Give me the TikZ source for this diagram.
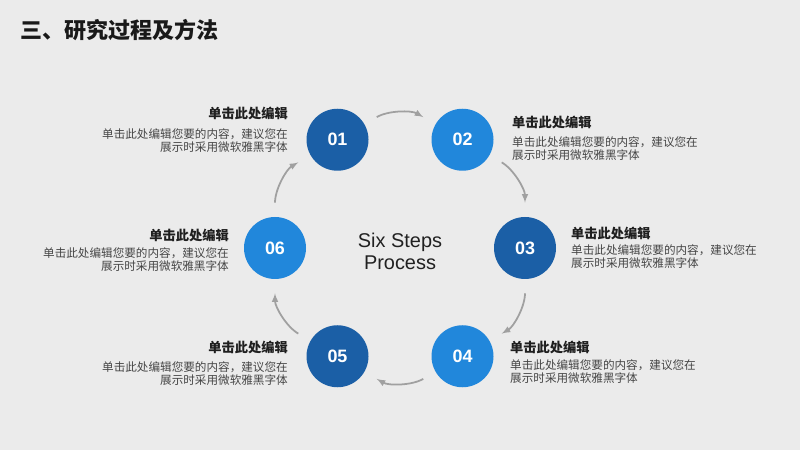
\documentclass[tikz,border=0pt]{standalone}
\usepackage{fontspec}
\setmainfont{Liberation Sans}
\newfontfamily\cjk{Noto Sans CJK SC}
\definecolor{bgcol}{HTML}{EBEBEB}
\definecolor{stepdark}{HTML}{1B5FA6}
\definecolor{steplight}{HTML}{2187DB}
\definecolor{arrowgray}{HTML}{A0A0A0}
\definecolor{bodygray}{HTML}{454545}
\tikzset{
  stepball/.style={circle,minimum size=1.86cm,inner sep=0pt,text=white,
    font=\fontsize{15.3pt}{16pt}\selectfont\bfseries},
  steptitle/.style={inner sep=0pt,text=black!88,font=\cjk\fontsize{11.3pt}{13pt}\selectfont\bfseries},
  stepbody/.style={inner sep=0pt,text=bodygray,font=\cjk\fontsize{9.9pt}{11.05pt}\selectfont},
  flow/.style={->,draw=arrowgray,line width=1.5pt,shorten <=12pt,shorten >=12pt}
}
\begin{document}
\begin{tikzpicture}[x=0.03cm,y=0.03cm,>=latex]
    \fill[bgcol] (0,0) rectangle (800,450);
    \useasboundingbox (0,0) rectangle (800,450);
    \node[anchor=west,inner sep=0pt,text=black!90,font=\cjk\fontsize{18.8pt}{20pt}\selectfont\bfseries] (head) at (20,420) {三、研究过程及方法};
    \node[align=center,text=black!87,font=\fontsize{17pt}{18.7pt}\selectfont] (core) at (400,199) {Six Steps\\Process};
    % six circles on a hexagon
    \begin{scope}[shift={(400,202)}]
      \foreach \n/\a/\c in {01/120/stepdark,02/60/steplight,03/0/stepdark,04/-60/steplight,05/-120/stepdark,06/180/steplight}
        \node[stepball,fill=\c] (n\n) at (\a:125) {\n};
    \end{scope}
    \foreach \a/\b in {01/02,02/03,03/04,04/05,05/06,06/01}
      \draw[flow] (n\a) to[bend left=30] (n\b);
    % texts beside the circles
    \foreach \n/\x/\ty/\by/\s/\al in {01/288/337/321.3/east/right,02/512/328/313.3/west/left,03/571/217/205.3/west/left,04/510/103/90.3/west/left,05/288/103/88.3/east/right,06/229/215/202.3/east/right}{
      \node[steptitle,anchor=\s] (t\n) at (\x,\ty) {单击此处编辑};
      \node[stepbody,anchor=north \s,align=\al] (b\n) at (\x,\by) {单击此处编辑您要的内容，建议您在\\展示时采用微软雅黑字体};
    }
\end{tikzpicture}
\end{document}
